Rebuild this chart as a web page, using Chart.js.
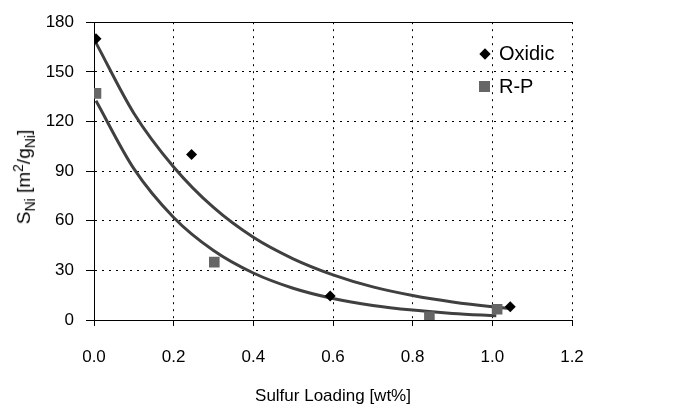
<!DOCTYPE html>
<html>
<head>
<meta charset="utf-8">
<script src="https://cdn.jsdelivr.net/npm/chart.js@4.4.1/dist/chart.umd.min.js"></script>
<style>
  body { margin: 0; background: #fff; }
  #wrap { position: relative; width: 678px; height: 407px; font-family: "Liberation Sans", Arial, sans-serif; }
  #ytitle {
    position: absolute; left: 24px; top: 177px;
    transform: translate(-50%, -50%) rotate(-90deg);
    white-space: nowrap; font-size: 19px; color: #000;
  }
  #ytitle sub, #ytitle sup { font-size: 14px; }
  #legend { position: absolute; left: 477px; top: 37px; font-size: 20px; color: #000; }
  .row { height: 33px; display: flex; align-items: center; }
  .mk { width: 15px; display: inline-flex; justify-content: center; margin-right: 7px; }
</style>
</head>
<body>
<div id="wrap">
  <canvas id="chart" width="678" height="407"></canvas>
  <div id="ytitle">S<sub>Ni</sub> [m<sup>2</sup>/g<sub>Ni</sub>]</div>
  <div id="legend"></div>
</div>
<script>
// 測定点
const oxidicX = [0.005, 0.245, 0.593, 1.045];
const oxidicY = [170, 100, 14.5, 8];
const rpX = [0.005, 0.302, 0.842, 1.012];
const rpY = [137, 35, 2, 6.5];

// トレンド曲線
const upperTrendX = [0.005, 0.1, 0.2, 0.3, 0.4, 0.5, 0.6, 0.7, 0.8, 0.9, 1.0, 1.045];
const upperTrendY = [167.5, 125, 92.5, 68, 50, 37, 27.3, 20, 14.8, 10.9, 8, 7];
const lowerTrendX = [0.005, 0.1, 0.2, 0.3, 0.4, 0.5, 0.6, 0.7, 0.8, 0.9, 1.01];
const lowerTrendY = [132.5, 91.5, 62, 42, 28.4, 19.2, 13, 8.8, 6, 4, 2.6];

const xTicks = [0, 0.2, 0.4, 0.6, 0.8, 1.0, 1.2];
const yTicks = [0, 30, 60, 90, 120, 150, 180];

const series = [
  { label: 'Oxidic', color: '#000000', style: 'rectRot', radius: 5.5 },
  { label: 'R-P', color: '#666666', style: 'rect', radius: 7.5 }
];

const pts = (xs, ys) => xs.map((x, i) => ({ x: x, y: ys[i] }));
const font = { family: '"Liberation Sans", Arial, sans-serif', size: 17 };

const trend = (data) => ({
  data: data,
  showLine: true,
  borderColor: '#404040',
  borderWidth: 3,
  pointRadius: 0,
  cubicInterpolationMode: 'monotone',
  order: 2
});

const ctx = document.getElementById('chart').getContext('2d');
const chart = new Chart(ctx, {
  type: 'scatter',
  data: {
    datasets: [
      {
        label: series[0].label,
        data: pts(oxidicX, oxidicY),
        pointStyle: series[0].style,
        pointRadius: series[0].radius,
        backgroundColor: series[0].color,
        borderColor: series[0].color,
        borderWidth: 0,
        order: 0
      },
      {
        label: series[1].label,
        data: pts(rpX, rpY),
        pointStyle: series[1].style,
        pointRadius: series[1].radius,
        backgroundColor: series[1].color,
        borderColor: series[1].color,
        borderWidth: 0,
        order: 0
      },
      trend(pts(upperTrendX, upperTrendY)),
      trend(pts(lowerTrendX, lowerTrendY))
    ]
  },
  options: {
    responsive: false,
    animation: false,
    layout: { padding: { left: 0, top: 20, right: 106, bottom: 0 } },
    plugins: { legend: { display: false }, tooltip: { enabled: false } },
    scales: {
      x: {
        type: 'linear',
        min: 0, max: 1.2,
        afterBuildTicks: s => { s.ticks = xTicks.map(v => ({ value: v })); },
        afterFit: s => { s.height = 87; },
        ticks: { color: '#000', font: font, padding: 21, maxRotation: 0, callback: v => v.toFixed(1) },
        grid: { color: '#000', lineWidth: 1, tickLength: 6, tickColor: '#000' },
        border: { display: true, color: '#000', width: 1, dash: [2, 5] },
        title: { display: true, text: 'Sulfur Loading [wt%]', color: '#000', font: font, padding: 0 }
      },
      xTop: {
        type: 'linear',
        position: 'top',
        min: 0, max: 1.2,
        afterFit: s => { s.height = 0; },
        ticks: { display: false },
        grid: { display: false },
        border: { display: true, color: '#000', width: 1 }
      },
      y: {
        type: 'linear',
        min: 0, max: 180,
        afterBuildTicks: s => { s.ticks = yTicks.map(v => ({ value: v })); },
        afterFit: s => { s.width = 94; },
        ticks: { color: '#000', font: font, padding: 12 },
        grid: { color: '#000', lineWidth: 1, tickLength: 8, tickColor: '#000' },
        border: { display: true, color: '#000', width: 1, dash: [2, 5] }
      }
    }
  }
});

// 凡例
const legend = document.getElementById('legend');
series.forEach(s => {
  const row = document.createElement('div');
  row.className = 'row';
  const mk = document.createElement('span');
  mk.className = 'mk';
  const box = document.createElement('span');
  box.style.display = 'inline-block';
  box.style.background = s.color;
  if (s.style === 'rectRot') {
    box.style.width = '8px'; box.style.height = '8px';
    box.style.transform = 'rotate(45deg)';
  } else {
    box.style.width = '11px'; box.style.height = '11px';
  }
  mk.appendChild(box);
  row.appendChild(mk);
  row.appendChild(document.createTextNode(s.label));
  legend.appendChild(row);
});
</script>
</body>
</html>
